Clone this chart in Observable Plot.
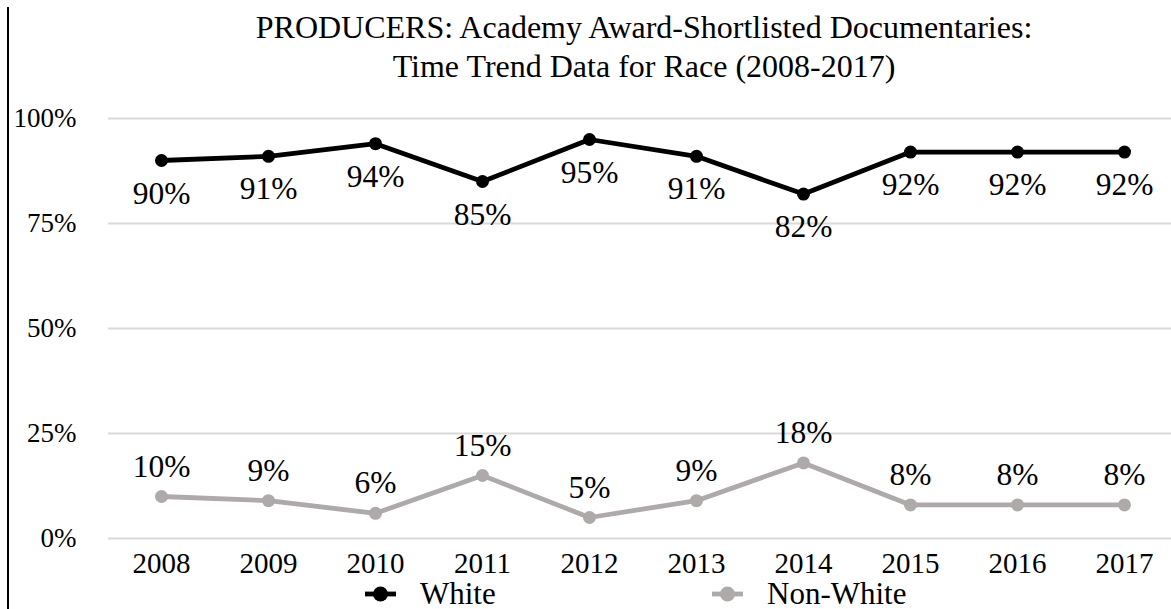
<!DOCTYPE html>
<html>
<head>
<meta charset="utf-8">
<script src="https://cdn.jsdelivr.net/npm/d3@7"></script>
<script src="https://cdn.jsdelivr.net/npm/@observablehq/plot@0.6"></script>
<style>
  html, body { margin: 0; padding: 0; background: #fff; overflow: hidden; }
  #wrap { position: relative; width: 1171px; height: 609px; font-family: "Liberation Serif", "Times New Roman", Tinos, "DejaVu Serif", serif; }
  #wrap svg { position: absolute; left: 0; top: 0; }
  #leftline { position: absolute; left: 7px; top: 7px; width: 2px; height: 602px; background: #000; }
  #title { position: absolute; left: 108px; width: 1072px; top: 8px; text-align: center; font-size: 32px; line-height: 39px; color: #000; white-space: nowrap; }
  .leg { position: absolute; top: 579px; height: 30px; display: flex; align-items: center; font-size: 31px; line-height: 30px; color: #000; white-space: nowrap; }
  .leg svg { position: static !important; margin-right: 24px; }
</style>
</head>
<body>
<div id="wrap">
  <div id="title">PRODUCERS: Academy Award-Shortlisted Documentaries:<br>Time Trend Data for Race (2008-2017)</div>
</div>
<script>
const years = ["2008","2009","2010","2011","2012","2013","2014","2015","2016","2017"];
const whiteValues = [90, 91, 94, 85, 95, 91, 82, 92, 92, 92];
const nonWhiteValues = [10, 9, 6, 15, 5, 9, 18, 8, 8, 8];
const yTicks = [0, 25, 50, 75, 100];
const seriesNames = ["White", "Non-White"];
const seriesColors = ["#000000", "#aeaaaa"];

const white = years.map((y, i) => ({year: y, value: whiteValues[i]}));
const nonWhite = years.map((y, i) => ({year: y, value: nonWhiteValues[i]}));

const font = '"Liberation Serif", "Times New Roman", Tinos, "DejaVu Serif", serif';
const chart = Plot.plot({
  width: 1171,
  height: 609,
  marginLeft: 108,
  marginRight: 0,
  marginTop: 118,
  marginBottom: 71,
  style: {fontFamily: font, background: "transparent"},
  x: {type: "point", domain: years, range: [161, 1124], padding: 0},
  y: {domain: [0, 100]},
  marks: [
    Plot.gridY(yTicks, {stroke: "#d9d9d9", strokeOpacity: 1, strokeWidth: 2}),
    Plot.axisY(yTicks, {tickSize: 0, tickPadding: 32, tickFormat: d => d + "%", fontSize: 27, fontFamily: font, fill: "#000", label: null}),
    Plot.axisX({tickSize: 0, tickPadding: 14, fontSize: 29, fontFamily: font, fill: "#000", label: null}),
    Plot.line(nonWhite, {x: "year", y: "value", stroke: seriesColors[1], strokeWidth: 4.8}),
    Plot.dot(nonWhite, {x: "year", y: "value", fill: seriesColors[1], r: 6.5}),
    Plot.line(white, {x: "year", y: "value", stroke: seriesColors[0], strokeWidth: 4.8}),
    Plot.dot(white, {x: "year", y: "value", fill: seriesColors[0], r: 6.5}),
    Plot.text(white, {x: "year", y: "value", text: d => d.value + "%", dy: 33, fontSize: 31.5, fontFamily: font, fill: "#000"}),
    Plot.text(nonWhite, {x: "year", y: "value", text: d => d.value + "%", dy: -30, fontSize: 31.5, fontFamily: font, fill: "#000"})
  ]
});
const wrap = document.getElementById("wrap");
wrap.insertBefore(chart, wrap.firstChild);
const ll = document.createElement("div"); ll.id = "leftline"; wrap.appendChild(ll);

const legLeft = [365, 712];
seriesNames.forEach((name, i) => {
  const d = document.createElement("div");
  d.className = "leg";
  d.style.left = legLeft[i] + "px";
  d.innerHTML = `<svg width="31" height="20"><line x1="0" y1="10" x2="31" y2="10" stroke="${seriesColors[i]}" stroke-width="4.8"/><circle cx="15.5" cy="10" r="7.5" fill="${seriesColors[i]}"/></svg><span>${name}</span>`;
  wrap.appendChild(d);
});
</script>
</body>
</html>
